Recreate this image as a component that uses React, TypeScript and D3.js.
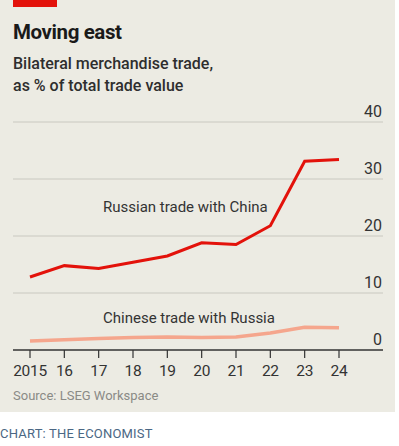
import { FC } from 'react';
import * as d3 from 'd3';

// data
const years = [2015, 2016, 2017, 2018, 2019, 2020, 2021, 2022, 2023, 2024];
const yearLabels = ['2015', '16', '17', '18', '19', '20', '21', '22', '23', '24'];
const russiaWithChina = [12.8, 14.8, 14.3, 15.4, 16.5, 18.8, 18.5, 21.8, 33.1, 33.4];
const chinaWithRussia = [1.6, 1.8, 2.0, 2.2, 2.3, 2.2, 2.3, 3.0, 4.0, 3.9];
const yTicks = [0, 10, 20, 30, 40];

const W = 399;
const H = 446;
const FONT = 'Roboto, "Liberation Sans", sans-serif';

const App: FC = () => {
  const x = d3.scaleLinear().domain([2015, 2024]).range([30, 339]);
  const y = d3.scaleLinear().domain([0, 40]).range([350, 122]);

  const line = d3
    .line<number>()
    .x((_d, i) => x(years[i]))
    .y((d) => y(d));

  return (
    <div style={{ position: 'absolute', left: 0, top: 0 }}>
      <svg width={W} height={H} style={{ display: 'block', fontFamily: FONT }}>
        <rect x={0} y={0} width={W} height={H} fill="#ffffff" />
        <rect x={0} y={0} width={395} height={412} fill="#ecebe3" />
        <rect x={13} y={0} width={44} height={7} fill="#e3120b" />

        <text x={13} y={39} fontSize={20.5} fontWeight={700} fill="#1a1a1a" letterSpacing={-0.4}>
          Moving east
        </text>
        <text x={13} y={69} fontSize={16} fontWeight={500} fill="#2e2e2e">
          Bilateral merchandise trade,
        </text>
        <text x={13} y={91} fontSize={16} fontWeight={500} fill="#2e2e2e">
          as % of total trade value
        </text>

        {/* gridlines + y labels */}
        {yTicks.map((t) => (
          <g key={t}>
            {t > 0 && (
              <line x1={13} x2={383} y1={y(t)} y2={y(t)} stroke="#c9c8c0" strokeWidth={1} />
            )}
            <text x={382} y={y(t) - 5} textAnchor="end" fontSize={16} fill="#333">
              {t}
            </text>
          </g>
        ))}

        {/* x axis */}
        <line x1={13} x2={383} y1={y(0)} y2={y(0)} stroke="#333" strokeWidth={1.5} />
        {years.map((yr, i) => (
          <g key={yr}>
            <line x1={x(yr)} x2={x(yr)} y1={y(0)} y2={y(0) + 8} stroke="#333" strokeWidth={1.2} />
            <text x={x(yr)} y={376} textAnchor="middle" fontSize={15.5} fill="#333" letterSpacing={-0.3}>
              {yearLabels[i]}
            </text>
          </g>
        ))}

        {/* series */}
        <path
          d={line(chinaWithRussia) ?? ''}
          fill="none"
          stroke="#f5a68d"
          strokeWidth={3.5}
          strokeLinejoin="round"
        />
        <path
          d={line(russiaWithChina) ?? ''}
          fill="none"
          stroke="#e3120b"
          strokeWidth={3}
          strokeLinejoin="miter"
        />

        <text x={103} y={212} fontSize={15} fill="#333">
          Russian trade with China
        </text>
        <text x={103} y={323} fontSize={15} fill="#333">
          Chinese trade with Russia
        </text>

        <text x={13} y={400} fontSize={13} fill="#8a8a86">
          Source: LSEG Workspace
        </text>

        <text x={0} y={438} fontSize={13} fill="#4b6784" letterSpacing={0.2}>
          CHART: THE ECONOMIST
        </text>
      </svg>
    </div>
  );
};

export default App;
